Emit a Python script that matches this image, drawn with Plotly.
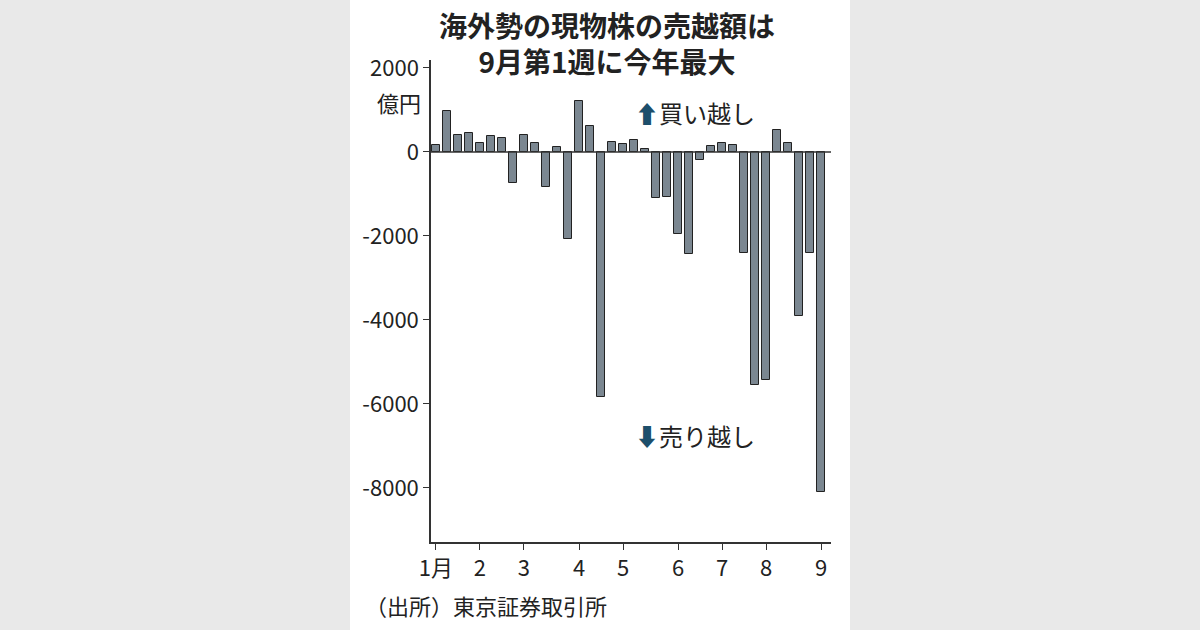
import plotly.graph_objects as go

# weekly net buy/sell by foreign investors (100 million yen), Jan wk1 .. Sep wk1
weeks = list(range(1, 37))
values = [170, 980, 400, 450, 210, 380, 330, -740, 400, 210, -840, 120,
          -2080, 1210, 620, -5830, 240, 200, 290, 70, -1100, -1080, -1950, -2440,
          -190, 150, 210, 170, -2400, -5550, -5430, 520, 220, -3900, -2400, -8100]
month_pos = [1, 5, 9, 14, 18, 23, 27, 31, 36]
month_labels = ["1月", "2", "3", "4", "5", "6", "7", "8", "9"]
y_ticks = [2000, 0, -2000, -4000, -6000, -8000]
y_labels = ["2000", "0", "-2000", "-4000", "-6000", "-8000"]

FONT = "Noto Sans CJK JP"

fig = go.Figure()
fig.add_trace(go.Bar(x=weeks, y=values, width=0.72,
                     marker=dict(color="#7b8791", line=dict(color="#222", width=1))))

fig.update_layout(
    width=1200, height=630,
    margin=dict(l=431, r=369, t=60, b=88, autoexpand=False),
    paper_bgcolor="#e9e9e9", plot_bgcolor="white",
    showlegend=False, bargap=0,
    font=dict(family=FONT, color="#222", size=22),
    shapes=[dict(type="rect", xref="paper", yref="paper", x0=-0.2025, x1=1.0475,
                 y0=-0.2, y1=1.15, fillcolor="white", line_width=0, layer="below"),
            dict(type="line", xref="paper", yref="y", x0=0, x1=1, y0=0, y1=0,
                 line=dict(color="#333", width=1.5))],
    xaxis=dict(range=[0.55, 36.9], tickvals=month_pos, ticktext=month_labels,
               ticks="outside", ticklen=6, tickcolor="#333", showgrid=False,
               showline=True, linecolor="#333", linewidth=1.5, zeroline=False,
               tickfont=dict(size=22)),
    yaxis=dict(range=[-9290, 2190], tickvals=y_ticks, ticktext=y_labels,
               ticks="outside", ticklen=6, tickcolor="#333", showgrid=False,
               showline=True, linecolor="#333", linewidth=1.5, zeroline=False,
               tickfont=dict(size=22)),
    annotations=[
        dict(text="<b>海外勢の現物株の売越額は<br>9月第1週に今年最大</b>", xref="paper",
             yref="paper", x=0.44, y=1.035, xanchor="center", yanchor="middle",
             showarrow=False, font=dict(size=28)),
        dict(text="億円", xref="paper", yref="y", x=-0.02, y=1200, xanchor="right",
             showarrow=False, font=dict(size=22)),
        dict(text="<span style='color:#1d4f6b'>⬆</span>買い越し", xref="paper", yref="y",
             x=0.505, y=950, xanchor="left", showarrow=False, font=dict(size=24)),
        dict(text="<span style='color:#1d4f6b'>⬇</span>売り越し", xref="paper", yref="y",
             x=0.505, y=-6750, xanchor="left", showarrow=False, font=dict(size=24)),
        dict(text="（出所）東京証券取引所", xref="paper", yref="paper", x=-0.17, y=-0.13,
             xanchor="left", yanchor="middle", showarrow=False, font=dict(size=22)),
    ],
)

fig.write_html("out.html", config={"displayModeBar": False},
               post_script="document.body.style.margin='0';")
